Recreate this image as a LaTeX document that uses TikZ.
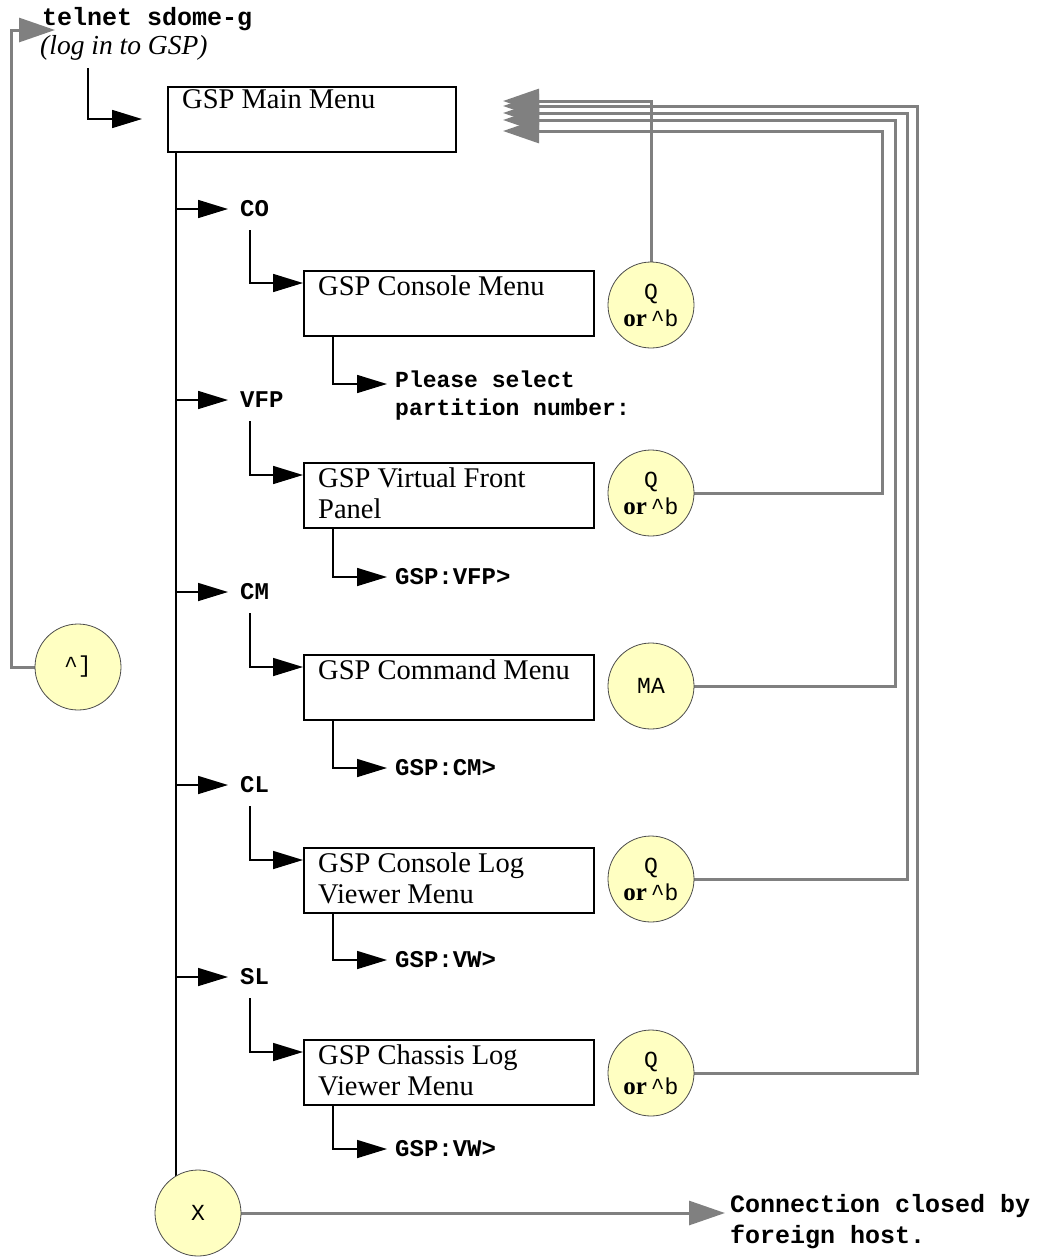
\documentclass[tikz,border=0pt]{standalone}
\usepackage{fontspec}
\setmainfont{Liberation Serif}
\setmonofont{Liberation Mono}
\usetikzlibrary{arrows.meta,calc,backgrounds}
\definecolor{keyfill}{RGB}{255,255,194}
\definecolor{linegray}{RGB}{128,128,128}
\tikzset{
  menubox/.style={draw, line width=1.6pt, fill=white, minimum height=65pt, anchor=north west, inner sep=0pt},
  boxtext/.style={anchor=base west, inner sep=0pt, align=left, font=\fontsize{28.5}{31}\selectfont},
  blk/.style={line width=1.6pt, -{Triangle[length=30pt,width=18pt]}},
  gry/.style={line width=3pt, linegray, -{Triangle[length=36pt,width=24pt]}},
  keycirc/.style={circle, draw=black!70, line width=0.8pt, fill=keyfill, minimum size=86pt, inner sep=0pt, align=center, font=\ttfamily\fontsize{23}{27}\selectfont},
  cmd/.style={font=\ttfamily\bfseries\fontsize{24}{29}\selectfont, inner ysep=0pt, inner xsep=0pt, align=left},
  optlabel/.style={cmd, anchor=west, inner xsep=12pt},
}
\newcommand{\qorb}{Q\\{\rmfamily\bfseries\fontsize{25}{27}\selectfont or}\,\textasciicircum b}
\begin{document}
\begin{tikzpicture}[x=1pt,y=-1pt]
\useasboundingbox (0,0) rectangle (1041,1259);

% top texts
\node[cmd, anchor=base west, font=\ttfamily\bfseries\fontsize{25}{30}\selectfont] (telnet) at (42,25) {telnet sdome-g};
\node[anchor=base west, inner sep=0pt, font=\itshape\fontsize{27.5}{30}\selectfont] (login) at (40,54) {(log in to GSP)};

% boxes
\node[menubox, minimum width=288pt] (main) at (167,86) {};
\node[boxtext] (tmain) at ($(main.north west)+(15,22)$) {GSP Main Menu};

\node[menubox, minimum width=290pt] (b1) at (303,270) {};
\node[boxtext] (t1) at ($(b1.north west)+(15,25)$) {GSP Console Menu};
\node[menubox, minimum width=290pt] (b2) at (303,462) {};
\node[boxtext] (t2) at ($(b2.north west)+(15,56)$) {GSP Virtual Front\\Panel};
\node[menubox, minimum width=290pt] (b3) at (303,654) {};
\node[boxtext] (t3) at ($(b3.north west)+(15,25)$) {GSP Command Menu};
\node[menubox, minimum width=290pt] (b4) at (303,847) {};
\node[boxtext] (t4) at ($(b4.north west)+(15,56)$) {GSP Console Log\\Viewer Menu};
\node[menubox, minimum width=290pt] (b5) at (303,1039) {};
\node[boxtext] (t5) at ($(b5.north west)+(15,56)$) {GSP Chassis Log\\Viewer Menu};

% option labels
\node[optlabel] (co) at (228,209) {CO};
\node[optlabel] (vfp) at (228,400) {VFP};
\node[optlabel] (cm) at (228,592) {CM};
\node[optlabel] (cl) at (228,785) {CL};
\node[optlabel] (sl) at (228,977) {SL};

% outputs
\node[cmd, anchor=base west, font=\ttfamily\bfseries\fontsize{23}{28}\selectfont] (o1) at (395,415) {Please select\\partition number:};
\node[cmd, anchor=base west] (o2) at (395,584) {GSP:VFP>};
\node[cmd, anchor=base west] (o3) at (395,775) {GSP:CM>};
\node[cmd, anchor=base west] (o4) at (395,967) {GSP:VW>};
\node[cmd, anchor=base west] (o5) at (395,1156) {GSP:VW>};
\node[cmd, anchor=base west, font=\ttfamily\bfseries\fontsize{25}{31}\selectfont] (closed) at (730,1243) {Connection closed by\\foreign host.};

% key circles
\node[keycirc] (k1) at (651,305) {\qorb};
\node[keycirc] (k2) at (651,493) {\qorb};
\node[keycirc] (k3) at (651,686) {MA};
\node[keycirc] (k4) at (651,879) {\qorb};
\node[keycirc] (k5) at (651,1073) {\qorb};
\node[keycirc] (kc) at (78,667) {\textasciicircum]};
\node[keycirc] (kx) at (198,1213) {X};

% free ends
\coordinate (la) at (88,68);
\coordinate (tr) at ($(main.south west)+(9,0)$);
\coordinate (m1) at (503,101);
\coordinate (m2) at (503,106);
\coordinate (m3) at (503,113);
\coordinate (m4) at (503,120);
\coordinate (m5) at (503,131);
\coordinate (tn) at (55,30);

\begin{scope}[on background layer]
  % entry
  \draw[blk] (la) |- ($(main.north west)+(-25,33)$);
  % trunk
  \draw[line width=1.6pt] (tr) -- (tr |- kx.center);
  % option branches
  \foreach \o/\b in {co/b1, vfp/b2, cm/b3, cl/b4, sl/b5}{
    \draw[blk] (tr |- \o.west) -- (\o.west);
    \draw[blk] ($(\o.west)+(22,21)$) |- ($(\b.north west)+(0,13)$);
  }
  \draw[blk] ($(b1.south west)+(30,0)$) |- ($(o1.base west)+(-8,-31)$);
  \draw[blk] ($(b2.south west)+(30,0)$) |- ($(o2.base west)+(-8,-7)$);
  \draw[blk] ($(b3.south west)+(30,0)$) |- ($(o3.base west)+(-8,-7)$);
  \draw[blk] ($(b4.south west)+(30,0)$) |- ($(o4.base west)+(-8,-7)$);
  \draw[blk] ($(b5.south west)+(30,0)$) |- ($(o5.base west)+(-8,-7)$);
  % returns to main menu
  \draw[gry] (k1.north) |- (m1);
  \draw[gry] (k2.east) -- ++(188,0) |- (m5);
  \draw[gry] (k3.east) -- ++(201,0) |- (m4);
  \draw[gry] (k4.east) -- ++(213,0) |- (m3);
  \draw[gry] (k5.east) -- ++(223,0) |- (m2);
  % telnet
  \draw[gry] (kc.west) -- ++(-23,0) |- (tn);
  % exit
  \draw[gry] (kx.east) -- ($(closed.base west)+(-5,-30)$);
\end{scope}
\end{tikzpicture}
\end{document}
